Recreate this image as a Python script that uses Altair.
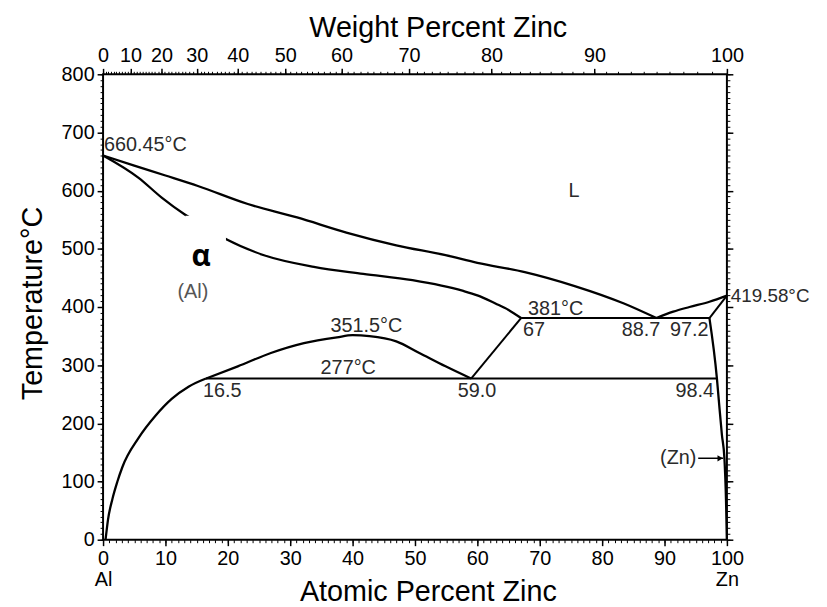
import altair as alt
import pandas as pd

# ---------------- data (atomic % Zn, temperature °C) ----------------
liq_al_x = [0, 5, 10, 15.2, 23.2, 31.1, 39.0, 47.0, 54.9, 60.0, 67.6, 75.6, 83.5, 88.7]
liq_al_t = [660.45, 643, 626, 608, 577, 554, 528, 506, 489, 476, 460, 436, 406, 381]

liq_zn_x = [88.7, 91.4, 94.0, 97.2, 100]
liq_zn_t = [381, 392, 400, 409, 419.58]

sol_al_x = [0, 5.7, 9.4, 13.1, 16.5, 20.0, 25.8, 33.8, 41.7, 49.6, 57.6, 60.0, 62.9, 65.0, 67.0]
sol_al_t = [660.45, 622, 588, 559, 537, 515, 489, 469, 457, 446, 428, 420, 406, 395, 381]

solv_al_x = [0.4, 0.8, 1.5, 2.3, 3.1, 5.7, 8.4, 11.0, 13.7, 16.5]
solv_al_t = [0, 35, 70, 100, 125, 175, 213, 242, 263, 277]

dome_x = [16.5, 21.6, 26.9, 32.2, 37.5, 40.0, 42.7, 47.0, 50.7, 54.9, 59.0]
dome_t = [277, 298, 321, 338, 348, 351.5, 350, 341, 321, 298, 277]

solv_zn_x = [97.2, 98.4, 98.7, 99.2, 99.6, 99.85, 100]
solv_zn_t = [381, 277, 240, 180, 140, 70, 0]

# straight segments
seg_name = ["al_solvus_hi", "al_solvus_hi", "eutectic", "eutectic", "eutectoid", "eutectoid", "zn_solidus", "zn_solidus"]
seg_x = [59.0, 67.0, 67.0, 97.2, 16.5, 98.4, 97.2, 100]
seg_t = [277, 381, 381, 381, 277, 277, 381, 419.58]

# axis ticks
at_major = list(range(0, 101, 10))
at_minor = list(range(0, 101, 1))
t_major = list(range(0, 801, 100))
t_minor = list(range(0, 801, 10))
wt_major = list(range(0, 101, 10))
wt_minor = list(range(0, 101, 1))
M_ZN, M_AL = 65.38, 26.98

# annotations
lab_text = ["660.45°C", "419.58°C", "351.5°C", "277°C", "381°C", "16.5", "59.0", "98.4",
            "67", "88.7", "97.2", "L"]
lab_x = [0, 100, 42.2, 39.3, 67.0, 16.5, 59.0, 98.4, 67.0, 88.7, 97.2, 75.5]
lab_t = [660.45, 419.58, 351.5, 277, 381, 277, 277, 277, 381, 381, 381, 589]
lab_align = ["left", "left", "center", "center", "left", "left", "center", "right",
             "left", "right", "right", "center"]
lab_base = ["alphabetic", "middle", "alphabetic", "alphabetic", "alphabetic", "top", "top", "top",
            "top", "top", "top", "alphabetic"]
lab_dx = [1, 4, 0, 0, 7, -3, 6, -3, 2, 4, -1, 0]
lab_dy = [-5, 0, -3, -5, -3, 3, 3, 3, 2, 2, 2, 0]
lab_size = [20, 19, 20, 20, 20, 20, 20, 20, 20, 20, 20, 20]

al_label = "(Al)"
al_label_x, al_label_t = 14.4, 425.5
alpha_label = "α"
alpha_x, alpha_t = 15.7, 485
box_x, box_x2, box_t, box_t2 = 13.2, 19.7, 446, 557

zn_label = "(Zn)"
zn_label_x, zn_label_t = 95.1, 140
arrow_x = [95.4, 99.4]
arrow_t = [140, 140]

# ---------------- build tables ----------------
def wt_to_at(w):
    a = w / M_ZN
    b = (100 - w) / M_AL
    return 100 * a / (a + b)

wt_major_at = [wt_to_at(w) for w in wt_major]
wt_minor_at = [wt_to_at(w) for w in wt_minor]

curved = {
    "liq_al": (liq_al_x, liq_al_t),
    "liq_zn": (liq_zn_x, liq_zn_t),
    "sol_al": (sol_al_x, sol_al_t),
    "solv_al": (solv_al_x, solv_al_t),
    "dome": (dome_x, dome_t),
    "solv_zn": (solv_zn_x, solv_zn_t),
}
rows = []
for name, (xs_, ts_) in curved.items():
    for i, (x, t) in enumerate(zip(xs_, ts_)):
        rows.append({"curve": name, "x": x, "T": t, "i": i})
curve_df = pd.DataFrame(rows)
seg_df = pd.DataFrame({"curve": seg_name, "x": seg_x, "T": seg_t, "i": list(range(len(seg_x)))})

lab_df = pd.DataFrame({"text": lab_text, "x": lab_x, "T": lab_t, "align": lab_align,
                       "base": lab_base, "dx": lab_dx, "dy": lab_dy, "size": lab_size})

FONT = "Liberation Sans"
xs = alt.Scale(domain=[0, 100], nice=False, zero=False)
ys = alt.Scale(domain=[0, 800], nice=False, zero=False)

common_axis = dict(grid=False, domain=False, tickColor="black", labelColor="black",
                   labelFont=FONT, labelFontSize=20, titleFont=FONT, titleFontSize=29,
                   titleFontWeight="normal", titleColor="black", labelFlush=False,
                   labelOverlap=False)

bottom_major = alt.Axis(values=at_major, orient="bottom", tickSize=6, tickWidth=1.5, labelPadding=3,
                        labelExpr="datum.value == 0 ? ['0','Al'] : datum.value == 100 ? ['100','Zn'] : datum.label",
                        labelLineHeight=21,
                        title="Atomic Percent Zinc", titleX=328, titleY=61,
                        titleBaseline="alphabetic", titleAlign="center", titleAnchor="start",
                        **common_axis)
bottom_minor = alt.Axis(values=at_minor, orient="bottom", tickSize=3, tickWidth=1, labels=False,
                        title=None, **common_axis)
left_major = alt.Axis(values=t_major, orient="left", tickSize=6, tickWidth=1.5, labelPadding=3,
                      title="Temperature°C", titleX=-62, titleY=231, titleAngle=-90,
                      titleBaseline="alphabetic", titleAlign="center", titleAnchor="start",
                      **common_axis)
left_minor = alt.Axis(values=t_minor, orient="left", tickSize=3, tickWidth=1, labels=False,
                      title=None, **common_axis)
top_major = alt.Axis(values=wt_major_at, orient="top", tickSize=6, tickWidth=1.5, labelPadding=3,
                     labelExpr="toString(round(6538*datum.value/(65.38*datum.value+26.98*(100-datum.value))))",
                     title="Weight Percent Zinc", titleX=338, titleY=-38,
                     titleBaseline="alphabetic", titleAlign="center", titleAnchor="start",
                     **common_axis)
top_minor = alt.Axis(values=wt_minor_at, orient="top", tickSize=3, tickWidth=1, labels=False,
                     title=None, **common_axis)
right_major = alt.Axis(values=t_major, orient="right", tickSize=6, tickWidth=1.5, labels=False,
                       title=None, **common_axis)
right_minor = alt.Axis(values=t_minor, orient="right", tickSize=3, tickWidth=1, labels=False,
                       title=None, **common_axis)

curves_layer = alt.Chart(curve_df).mark_line(interpolate="monotone", color="black", strokeWidth=2.3).encode(
    x=alt.X("x:Q", scale=xs, axis=bottom_major),
    y=alt.Y("T:Q", scale=ys, axis=left_major),
    detail="curve:N", order="i:Q")

seg_layer = alt.Chart(seg_df).mark_line(color="black", strokeWidth=2).encode(
    x=alt.X("x:Q", scale=xs, axis=bottom_minor),
    y=alt.Y("T:Q", scale=ys, axis=left_minor),
    detail="curve:N", order="i:Q")

ax3 = alt.Chart(curve_df).mark_point(opacity=0).encode(
    x=alt.X("x:Q", scale=xs, axis=top_major),
    y=alt.Y("T:Q", scale=ys, axis=right_major))
ax4 = alt.Chart(curve_df).mark_point(opacity=0).encode(
    x=alt.X("x:Q", scale=xs, axis=top_minor),
    y=alt.Y("T:Q", scale=ys, axis=right_minor))

box_layer = alt.Chart(pd.DataFrame({"x": [box_x], "x2": [box_x2], "T": [box_t], "T2": [box_t2]})).mark_rect(
    color="white").encode(
    x=alt.X("x:Q", scale=xs, axis=None), x2="x2:Q",
    y=alt.Y("T:Q", scale=ys, axis=None), y2="T2:Q")

text_layers = []
for _, r in lab_df.iterrows():
    text_layers.append(
        alt.Chart(pd.DataFrame([r])).mark_text(
            font=FONT, fontSize=float(r["size"]), color="#2a2a2a", align=r["align"], baseline=r["base"],
            dx=float(r["dx"]), dy=float(r["dy"])).encode(
            x=alt.X("x:Q", scale=xs, axis=None),
            y=alt.Y("T:Q", scale=ys, axis=None),
            text="text:N"))

al_layer = alt.Chart(pd.DataFrame({"text": [al_label], "x": [al_label_x], "T": [al_label_t]})).mark_text(
    font=FONT, fontSize=20, color="#555555", align="center", baseline="middle").encode(
    x=alt.X("x:Q", scale=xs, axis=None), y=alt.Y("T:Q", scale=ys, axis=None), text="text:N")

alpha_layer = alt.Chart(pd.DataFrame({"text": [alpha_label], "x": [alpha_x], "T": [alpha_t]})).mark_text(
    font="Open Sans", fontSize=30, fontWeight="bold", color="black", align="center", baseline="middle").encode(
    x=alt.X("x:Q", scale=xs, axis=None), y=alt.Y("T:Q", scale=ys, axis=None), text="text:N")

zn_layer = alt.Chart(pd.DataFrame({"text": [zn_label], "x": [zn_label_x], "T": [zn_label_t]})).mark_text(
    font=FONT, fontSize=20, color="#2a2a2a", align="right", baseline="middle").encode(
    x=alt.X("x:Q", scale=xs, axis=None), y=alt.Y("T:Q", scale=ys, axis=None), text="text:N")

arrow_df = pd.DataFrame({"x": arrow_x, "T": arrow_t, "i": [0, 1]})
arrow_line = alt.Chart(arrow_df).mark_line(color="black", strokeWidth=1.5).encode(
    x=alt.X("x:Q", scale=xs, axis=None), y=alt.Y("T:Q", scale=ys, axis=None), order="i:Q")
arrow_head = alt.Chart(arrow_df.iloc[[1]]).mark_point(
    shape="triangle-right", filled=True, color="black", size=40, opacity=1, xOffset=-3).encode(
    x=alt.X("x:Q", scale=xs, axis=None), y=alt.Y("T:Q", scale=ys, axis=None))

chart = alt.layer(
    curves_layer, seg_layer, ax3, ax4, box_layer, *text_layers, al_layer, alpha_layer,
    zn_layer, arrow_line, arrow_head
).resolve_axis(x="independent", y="independent").properties(
    width=630, height=470,
    autosize=alt.AutoSizeParams(type="none"),
    padding={"left": 96, "top": 64, "right": 93, "bottom": 65},
    background="white",
).configure_view(stroke="black", strokeWidth=2)

chart.save("out.html", embed_options={"renderer": "svg", "actions": False})
